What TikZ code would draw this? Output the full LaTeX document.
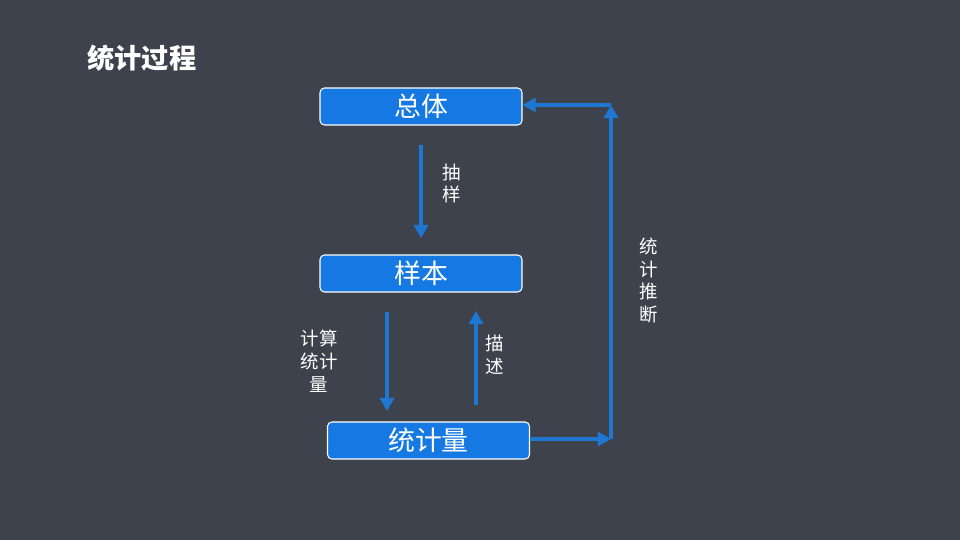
\documentclass[tikz,border=0pt]{standalone}
\usepackage{fontspec}
\setmainfont{Noto Sans CJK SC}
\usetikzlibrary{positioning,arrows.meta}
\definecolor{bgcol}{HTML}{3E424D}
\definecolor{boxcol}{HTML}{1679E3}
\definecolor{arrcol}{HTML}{1E78D2}

\begin{document}
\begin{tikzpicture}[x=0.02cm,y=-0.02cm,
  stagebox/.style={draw=white,line width=0.6pt,fill=boxcol,rounded corners=2.5pt,
    minimum width=4.04cm,minimum height=0.74cm,text=white,font=\fontsize{15.3}{16}\selectfont},
  lbl/.style={text=white,font=\fontsize{10.5}{13}\selectfont,align=center},
  flow/.style={draw=arrcol,line width=2.2pt,-{Triangle[length=7.5pt,width=8pt]}}]

\fill[bgcol] (0,0) rectangle (960,540);

\node (title) [text=white,font=\fontsize{15.5}{17}\selectfont\bfseries,anchor=west,inner sep=0pt] at (87,58) {统计过程};

\node (pop) [stagebox] at (421,106.5) {总体};
\node (smp) [stagebox] at (421,273.5) {样本};
\node (stat) [stagebox] at (428.5,440.5) {统计量};

% arrows between the boxes
\coordinate (s1) at (421,145);
\coordinate (e1) at (421,238);
\draw[flow] (s1) -- (e1);
\node (l1) [lbl] at (452,183.5) {抽\\样};

\coordinate (s2) at (387,312);
\coordinate (e2) at (387,411);
\draw[flow] (s2) -- (e2);
\node (l2) [lbl] at (319,361) {计算\\统计\\量};

\coordinate (s3) at (476,405);
\coordinate (e3) at (476,311);
\draw[flow] (s3) -- (e3);
\node (l3) [lbl] at (495,354.5) {描\\述};

% feedback loop
\coordinate (c1) at (611,439);
\coordinate (c2) at (611,105);
\draw[flow] (stat.east |- c1) -- (c1);
\draw[flow] (c1) -- (c2);
\draw[flow] (c2) -- (pop.east |- c2);
\node (l4) [lbl] at (649,280.5) {统\\计\\推\\断};

\end{tikzpicture}
\end{document}
